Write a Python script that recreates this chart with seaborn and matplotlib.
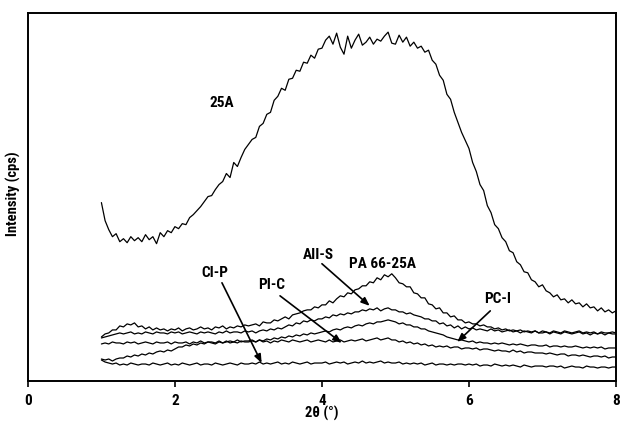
#!/usr/bin/env python3
"""XRD patterns of organoclay 25A and PA 66 nanocomposites (low angle region)."""

import numpy as np
import matplotlib
matplotlib.use("Agg")
import matplotlib.pyplot as plt
import seaborn as sns

# 2-theta grid, 1.00 to 8.00 degrees in 0.05 steps
two_theta = np.round(np.arange(1.0, 8.025, 0.05), 2)

# intensities (arbitrary units, baseline = 0), one row per degree
int_25a = [178, 160, 151, 144, 147, 139, 142, 138, 144, 140, 143, 139, 146, 141, 144, 137, 148, 144, 150, 148,
           154, 152, 157, 156, 163, 166, 170, 174, 179, 184, 185, 191, 196, 199, 207, 203, 218, 214, 223, 231,
           236, 241, 243, 254, 257, 266, 268, 280, 284, 292, 290, 301, 302, 310, 309, 318, 317, 325, 322, 331,
           332, 340, 344, 336, 347, 333, 326, 344, 332, 340, 346, 335, 338, 343, 336, 341, 339, 344, 348, 337,
           336, 345, 338, 343, 334, 338, 332, 334, 328, 330, 320, 316, 305, 300, 286, 281, 268, 258, 248, 240,
           232, 218, 209, 196, 190, 175, 168, 156, 152, 143, 139, 130, 128, 119, 116, 109, 108, 101, 99, 94,
           96, 90, 88, 84, 86, 81, 82, 78, 81, 77, 78, 74, 77, 73, 74, 70, 73, 69, 71, 68,
           70]
int_pa66 = [44, 47, 48, 51, 51, 55, 54, 57, 56, 58, 54, 55, 52, 54, 51, 53, 51, 52, 50, 52,
            51, 53, 50, 52, 53, 51, 52, 54, 52, 53, 51, 54, 53, 55, 52, 54, 53, 55, 54, 56,
            55, 56, 57, 55, 59, 58, 58, 61, 60, 62, 64, 62, 66, 67, 68, 70, 71, 71, 74, 73,
            76, 76, 80, 78, 82, 85, 84, 88, 87, 91, 92, 95, 95, 99, 98, 103, 101, 106, 104, 107,
            103, 98, 97, 94, 94, 88, 87, 83, 83, 77, 76, 72, 73, 68, 68, 64, 65, 61, 61, 58,
            59, 57, 57, 55, 56, 54, 54, 52, 53, 51, 52, 50, 51, 50, 51, 49, 50, 49, 50, 48,
            50, 49, 48, 50, 49, 48, 50, 49, 48, 49, 50, 48, 49, 48, 49, 47, 49, 48, 48, 49,
            48]
int_aiis = [43, 44, 45, 46, 47, 48, 47, 48, 49, 47, 48, 47, 49, 48, 47, 49, 48, 48, 47, 49,
            48, 49, 47, 48, 49, 48, 47, 49, 48, 49, 48, 47, 49, 48, 50, 48, 49, 49, 48, 50,
            49, 50, 48, 50, 51, 50, 52, 51, 53, 52, 54, 56, 55, 58, 57, 60, 59, 61, 60, 62,
            62, 64, 63, 66, 65, 67, 66, 68, 67, 69, 69, 71, 70, 72, 71, 73, 70, 72, 73, 71,
            71, 69, 69, 67, 68, 66, 65, 64, 62, 62, 60, 60, 57, 58, 55, 56, 53, 55, 52, 54,
            52, 53, 51, 52, 51, 50, 52, 50, 51, 49, 50, 51, 49, 50, 48, 50, 49, 48, 50, 48,
            48, 49, 47, 49, 48, 47, 49, 48, 47, 48, 49, 47, 48, 46, 48, 47, 48, 46, 48, 47,
            47]
int_pci = [37, 38, 37, 39, 38, 38, 37, 39, 38, 39, 37, 38, 39, 38, 37, 39, 38, 38, 39, 37,
           39, 38, 38, 39, 37, 39, 38, 40, 38, 39, 39, 38, 40, 38, 39, 40, 39, 41, 39, 40,
           40, 41, 39, 41, 40, 42, 41, 43, 42, 44, 43, 45, 44, 46, 45, 47, 46, 48, 47, 48,
           49, 50, 49, 51, 52, 51, 53, 54, 53, 55, 56, 55, 57, 58, 57, 59, 59, 60, 61, 60,
           59, 57, 58, 56, 56, 54, 54, 52, 52, 50, 49, 48, 47, 46, 44, 43, 42, 41, 41, 40,
           39, 40, 38, 39, 38, 38, 37, 38, 37, 38, 37, 36, 37, 36, 37, 36, 35, 36, 36, 35,
           35, 36, 34, 35, 35, 34, 35, 34, 34, 35, 34, 33, 34, 33, 34, 33, 34, 32, 33, 33,
           33]
int_pic = [22, 21, 22, 20, 22, 23, 23, 25, 24, 26, 25, 27, 26, 28, 27, 29, 30, 29, 31, 30,
           32, 34, 34, 36, 35, 37, 36, 38, 37, 39, 38, 37, 39, 38, 40, 38, 39, 38, 40, 39,
           39, 40, 39, 41, 39, 40, 38, 40, 39, 41, 40, 39, 41, 40, 39, 40, 41, 39, 40, 41,
           40, 39, 41, 39, 40, 41, 39, 40, 41, 40, 41, 42, 40, 41, 42, 43, 41, 42, 43, 41,
           41, 39, 40, 38, 39, 37, 38, 36, 37, 35, 36, 34, 35, 34, 35, 33, 34, 34, 32, 33,
           33, 32, 33, 31, 32, 32, 31, 30, 31, 30, 30, 29, 31, 29, 30, 28, 29, 29, 28, 28,
           28, 27, 28, 27, 26, 27, 27, 25, 26, 26, 25, 26, 25, 24, 25, 25, 24, 25, 23, 24,
           24]
int_cip = [21, 19, 18, 17, 18, 16, 17, 16, 18, 17, 16, 17, 17, 16, 18, 17, 16, 17, 18, 16,
           17, 16, 18, 17, 16, 17, 18, 16, 17, 17, 16, 18, 17, 16, 17, 18, 17, 16, 18, 17,
           17, 18, 17, 19, 17, 18, 17, 18, 19, 17, 18, 17, 19, 18, 17, 18, 19, 17, 18, 18,
           18, 19, 17, 18, 19, 18, 19, 17, 18, 19, 18, 20, 18, 19, 18, 19, 20, 18, 19, 18,
           18, 19, 17, 18, 17, 18, 17, 18, 16, 17, 18, 16, 17, 17, 16, 17, 16, 17, 17, 16,
           17, 16, 17, 15, 16, 16, 15, 17, 16, 15, 16, 15, 16, 15, 14, 16, 15, 14, 15, 15,
           15, 14, 15, 15, 14, 15, 13, 14, 15, 14, 14, 13, 15, 14, 14, 13, 14, 14, 13, 14,
           14]

curves = [int_25a, int_pa66, int_aiis, int_pci, int_pic, int_cip]

sns.set_style("white")
plt.rcParams['font.family'] = ['Roboto Condensed', 'DejaVu Sans']
plt.rcParams['font.weight'] = 'bold'
plt.rcParams['text.color'] = 'black'
plt.rcParams['axes.labelcolor'] = 'black'
plt.rcParams['xtick.color'] = 'black'

fig = plt.figure(figsize=(6.2, 4.22), dpi=100)
ax = fig.add_axes([0.045, 0.097, 0.9485, 0.872])

for vals in curves:
    sns.lineplot(x=two_theta, y=vals, color='black', linewidth=0.9, ax=ax)

ax.set_xlim(0, 8)
ax.set_ylim(0, 367)
ax.set_xticks([0, 2, 4, 6, 8])
ax.set_yticks([])
ax.tick_params(axis='x', direction='out', length=4, width=1.2, pad=5,
               labelsize=11, bottom=True)
for lab in ax.get_xticklabels():
    lab.set_fontweight('bold')
for sp in ax.spines.values():
    sp.set_color('black')
    sp.set_linewidth(1.4)

ax.set_xlabel('2θ (°)', fontsize=10.5, fontweight='bold', labelpad=-1)
ax.set_ylabel('Intensity (cps)', fontsize=10.5, fontweight='bold')
ax.yaxis.set_label_coords(-0.012, 0.51)

# labels
txt = dict(fontsize=11, fontweight='bold', ha='center', va='center')
ax.text(2.64, 277, '25A', **txt)
ax.text(4.83, 117, 'PA 66-25A', **txt)
ax.text(3.95, 126, 'AII-S', **txt)
ax.text(3.32, 96, 'PI-C', **txt)
ax.text(2.54, 108, 'CI-P', **txt)
ax.text(6.39, 82, 'PC-I', **txt)

arrow = dict(arrowstyle='-|>,head_length=0.5,head_width=0.2', color='black',
             lw=1.2, shrinkA=0, shrinkB=0)
ax.annotate('', xy=(3.18, 18), xytext=(2.64, 98), arrowprops=arrow)
ax.annotate('', xy=(4.27, 38), xytext=(3.43, 85), arrowprops=arrow)
ax.annotate('', xy=(4.65, 75), xytext=(4.00, 117), arrowprops=arrow)
ax.annotate('', xy=(5.84, 39), xytext=(6.29, 70), arrowprops=arrow)

fig.savefig('out.png', dpi=100)
